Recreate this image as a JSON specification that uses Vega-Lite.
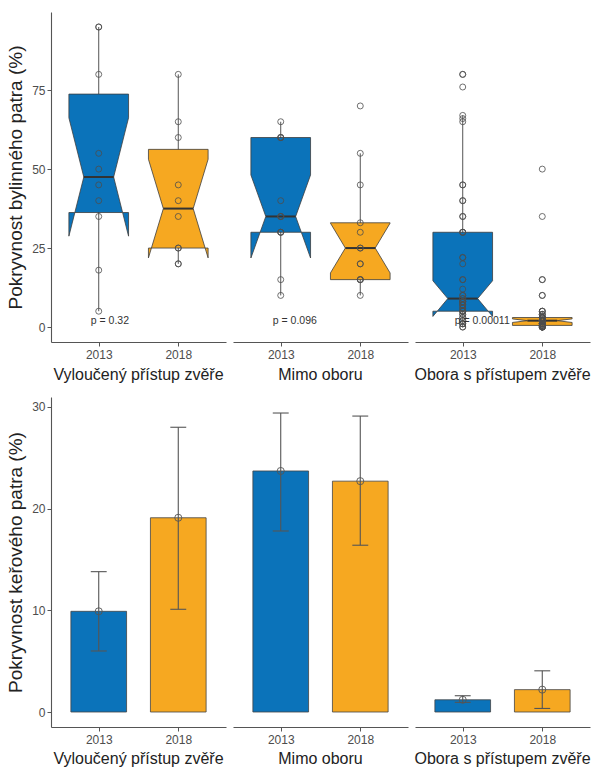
{
  "$schema": "https://vega.github.io/schema/vega-lite/v6.json",
  "background": "white",
  "padding": {"left": 6, "top": 12, "right": 0, "bottom": 0},
  "datasets": {
    "herb": [
      {"site": "Vyloučený přístup zvěře", "year": 2013, "cover": 95},
      {"site": "Vyloučený přístup zvěře", "year": 2013, "cover": 95},
      {"site": "Vyloučený přístup zvěře", "year": 2013, "cover": 80},
      {"site": "Vyloučený přístup zvěře", "year": 2013, "cover": 55},
      {"site": "Vyloučený přístup zvěře", "year": 2013, "cover": 50},
      {"site": "Vyloučený přístup zvěře", "year": 2013, "cover": 45},
      {"site": "Vyloučený přístup zvěře", "year": 2013, "cover": 40},
      {"site": "Vyloučený přístup zvěře", "year": 2013, "cover": 35},
      {"site": "Vyloučený přístup zvěře", "year": 2013, "cover": 18},
      {"site": "Vyloučený přístup zvěře", "year": 2013, "cover": 5},
      {"site": "Vyloučený přístup zvěře", "year": 2018, "cover": 80},
      {"site": "Vyloučený přístup zvěře", "year": 2018, "cover": 65},
      {"site": "Vyloučený přístup zvěře", "year": 2018, "cover": 60},
      {"site": "Vyloučený přístup zvěře", "year": 2018, "cover": 45},
      {"site": "Vyloučený přístup zvěře", "year": 2018, "cover": 40},
      {"site": "Vyloučený přístup zvěře", "year": 2018, "cover": 35},
      {"site": "Vyloučený přístup zvěře", "year": 2018, "cover": 25},
      {"site": "Vyloučený přístup zvěře", "year": 2018, "cover": 25},
      {"site": "Vyloučený přístup zvěře", "year": 2018, "cover": 20},
      {"site": "Vyloučený přístup zvěře", "year": 2018, "cover": 20},
      {"site": "Mimo oboru", "year": 2013, "cover": 65},
      {"site": "Mimo oboru", "year": 2013, "cover": 60},
      {"site": "Mimo oboru", "year": 2013, "cover": 60},
      {"site": "Mimo oboru", "year": 2013, "cover": 60},
      {"site": "Mimo oboru", "year": 2013, "cover": 40},
      {"site": "Mimo oboru", "year": 2013, "cover": 35},
      {"site": "Mimo oboru", "year": 2013, "cover": 35},
      {"site": "Mimo oboru", "year": 2013, "cover": 35},
      {"site": "Mimo oboru", "year": 2013, "cover": 30},
      {"site": "Mimo oboru", "year": 2013, "cover": 30},
      {"site": "Mimo oboru", "year": 2013, "cover": 30},
      {"site": "Mimo oboru", "year": 2013, "cover": 15},
      {"site": "Mimo oboru", "year": 2013, "cover": 10},
      {"site": "Mimo oboru", "year": 2018, "cover": 70},
      {"site": "Mimo oboru", "year": 2018, "cover": 55},
      {"site": "Mimo oboru", "year": 2018, "cover": 45},
      {"site": "Mimo oboru", "year": 2018, "cover": 33},
      {"site": "Mimo oboru", "year": 2018, "cover": 30},
      {"site": "Mimo oboru", "year": 2018, "cover": 25},
      {"site": "Mimo oboru", "year": 2018, "cover": 25},
      {"site": "Mimo oboru", "year": 2018, "cover": 20},
      {"site": "Mimo oboru", "year": 2018, "cover": 20},
      {"site": "Mimo oboru", "year": 2018, "cover": 15},
      {"site": "Mimo oboru", "year": 2018, "cover": 15},
      {"site": "Mimo oboru", "year": 2018, "cover": 15},
      {"site": "Mimo oboru", "year": 2018, "cover": 10},
      {"site": "Obora s přístupem zvěře", "year": 2013, "cover": 0},
      {"site": "Obora s přístupem zvěře", "year": 2013, "cover": 0},
      {"site": "Obora s přístupem zvěře", "year": 2013, "cover": 1},
      {"site": "Obora s přístupem zvěře", "year": 2013, "cover": 1},
      {"site": "Obora s přístupem zvěře", "year": 2013, "cover": 1},
      {"site": "Obora s přístupem zvěře", "year": 2013, "cover": 2},
      {"site": "Obora s přístupem zvěře", "year": 2013, "cover": 2},
      {"site": "Obora s přístupem zvěře", "year": 2013, "cover": 3},
      {"site": "Obora s přístupem zvěře", "year": 2013, "cover": 3},
      {"site": "Obora s přístupem zvěře", "year": 2013, "cover": 4},
      {"site": "Obora s přístupem zvěře", "year": 2013, "cover": 4},
      {"site": "Obora s přístupem zvěře", "year": 2013, "cover": 5},
      {"site": "Obora s přístupem zvěře", "year": 2013, "cover": 5},
      {"site": "Obora s přístupem zvěře", "year": 2013, "cover": 5},
      {"site": "Obora s přístupem zvěře", "year": 2013, "cover": 5},
      {"site": "Obora s přístupem zvěře", "year": 2013, "cover": 6},
      {"site": "Obora s přístupem zvěře", "year": 2013, "cover": 6},
      {"site": "Obora s přístupem zvěře", "year": 2013, "cover": 7},
      {"site": "Obora s přístupem zvěře", "year": 2013, "cover": 7},
      {"site": "Obora s přístupem zvěře", "year": 2013, "cover": 7},
      {"site": "Obora s přístupem zvěře", "year": 2013, "cover": 8},
      {"site": "Obora s přístupem zvěře", "year": 2013, "cover": 8},
      {"site": "Obora s přístupem zvěře", "year": 2013, "cover": 8},
      {"site": "Obora s přístupem zvěře", "year": 2013, "cover": 8},
      {"site": "Obora s přístupem zvěře", "year": 2013, "cover": 9},
      {"site": "Obora s přístupem zvěře", "year": 2013, "cover": 9},
      {"site": "Obora s přístupem zvěře", "year": 2013, "cover": 10},
      {"site": "Obora s přístupem zvěře", "year": 2013, "cover": 10},
      {"site": "Obora s přístupem zvěře", "year": 2013, "cover": 12},
      {"site": "Obora s přístupem zvěře", "year": 2013, "cover": 15},
      {"site": "Obora s přístupem zvěře", "year": 2013, "cover": 15},
      {"site": "Obora s přístupem zvěře", "year": 2013, "cover": 20},
      {"site": "Obora s přístupem zvěře", "year": 2013, "cover": 22},
      {"site": "Obora s přístupem zvěře", "year": 2013, "cover": 22},
      {"site": "Obora s přístupem zvěře", "year": 2013, "cover": 30},
      {"site": "Obora s přístupem zvěře", "year": 2013, "cover": 30},
      {"site": "Obora s přístupem zvěře", "year": 2013, "cover": 30},
      {"site": "Obora s přístupem zvěře", "year": 2013, "cover": 35},
      {"site": "Obora s přístupem zvěře", "year": 2013, "cover": 35},
      {"site": "Obora s přístupem zvěře", "year": 2013, "cover": 40},
      {"site": "Obora s přístupem zvěře", "year": 2013, "cover": 40},
      {"site": "Obora s přístupem zvěře", "year": 2013, "cover": 45},
      {"site": "Obora s přístupem zvěře", "year": 2013, "cover": 45},
      {"site": "Obora s přístupem zvěře", "year": 2013, "cover": 65},
      {"site": "Obora s přístupem zvěře", "year": 2013, "cover": 66},
      {"site": "Obora s přístupem zvěře", "year": 2013, "cover": 67},
      {"site": "Obora s přístupem zvěře", "year": 2013, "cover": 76},
      {"site": "Obora s přístupem zvěře", "year": 2013, "cover": 80},
      {"site": "Obora s přístupem zvěře", "year": 2013, "cover": 80},
      {"site": "Obora s přístupem zvěře", "year": 2018, "cover": 0},
      {"site": "Obora s přístupem zvěře", "year": 2018, "cover": 0},
      {"site": "Obora s přístupem zvěře", "year": 2018, "cover": 0},
      {"site": "Obora s přístupem zvěře", "year": 2018, "cover": 0},
      {"site": "Obora s přístupem zvěře", "year": 2018, "cover": 0},
      {"site": "Obora s přístupem zvěře", "year": 2018, "cover": 0},
      {"site": "Obora s přístupem zvěře", "year": 2018, "cover": 0},
      {"site": "Obora s přístupem zvěře", "year": 2018, "cover": 0},
      {"site": "Obora s přístupem zvěře", "year": 2018, "cover": 0.5},
      {"site": "Obora s přístupem zvěře", "year": 2018, "cover": 0.5},
      {"site": "Obora s přístupem zvěře", "year": 2018, "cover": 0.5},
      {"site": "Obora s přístupem zvěře", "year": 2018, "cover": 0.5},
      {"site": "Obora s přístupem zvěře", "year": 2018, "cover": 0.5},
      {"site": "Obora s přístupem zvěře", "year": 2018, "cover": 1},
      {"site": "Obora s přístupem zvěře", "year": 2018, "cover": 1},
      {"site": "Obora s přístupem zvěře", "year": 2018, "cover": 1},
      {"site": "Obora s přístupem zvěře", "year": 2018, "cover": 1},
      {"site": "Obora s přístupem zvěře", "year": 2018, "cover": 1},
      {"site": "Obora s přístupem zvěře", "year": 2018, "cover": 1},
      {"site": "Obora s přístupem zvěře", "year": 2018, "cover": 1},
      {"site": "Obora s přístupem zvěře", "year": 2018, "cover": 2},
      {"site": "Obora s přístupem zvěře", "year": 2018, "cover": 2},
      {"site": "Obora s přístupem zvěře", "year": 2018, "cover": 2},
      {"site": "Obora s přístupem zvěře", "year": 2018, "cover": 2},
      {"site": "Obora s přístupem zvěře", "year": 2018, "cover": 2},
      {"site": "Obora s přístupem zvěře", "year": 2018, "cover": 2},
      {"site": "Obora s přístupem zvěře", "year": 2018, "cover": 2},
      {"site": "Obora s přístupem zvěře", "year": 2018, "cover": 2},
      {"site": "Obora s přístupem zvěře", "year": 2018, "cover": 2},
      {"site": "Obora s přístupem zvěře", "year": 2018, "cover": 3},
      {"site": "Obora s přístupem zvěře", "year": 2018, "cover": 3},
      {"site": "Obora s přístupem zvěře", "year": 2018, "cover": 3},
      {"site": "Obora s přístupem zvěře", "year": 2018, "cover": 3},
      {"site": "Obora s přístupem zvěře", "year": 2018, "cover": 3},
      {"site": "Obora s přístupem zvěře", "year": 2018, "cover": 3},
      {"site": "Obora s přístupem zvěře", "year": 2018, "cover": 3},
      {"site": "Obora s přístupem zvěře", "year": 2018, "cover": 3},
      {"site": "Obora s přístupem zvěře", "year": 2018, "cover": 4},
      {"site": "Obora s přístupem zvěře", "year": 2018, "cover": 4},
      {"site": "Obora s přístupem zvěře", "year": 2018, "cover": 4},
      {"site": "Obora s přístupem zvěře", "year": 2018, "cover": 5},
      {"site": "Obora s přístupem zvěře", "year": 2018, "cover": 5},
      {"site": "Obora s přístupem zvěře", "year": 2018, "cover": 5},
      {"site": "Obora s přístupem zvěře", "year": 2018, "cover": 10},
      {"site": "Obora s přístupem zvěře", "year": 2018, "cover": 10},
      {"site": "Obora s přístupem zvěře", "year": 2018, "cover": 15},
      {"site": "Obora s přístupem zvěře", "year": 2018, "cover": 15},
      {"site": "Obora s přístupem zvěře", "year": 2018, "cover": 35},
      {"site": "Obora s přístupem zvěře", "year": 2018, "cover": 50},
      {"site": "Vyloučený přístup zvěře", "p": "p = 0.32"},
      {"site": "Mimo oboru", "p": "p = 0.096"},
      {"site": "Obora s přístupem zvěře", "p": "p = 0.00011"}
    ],
    "shrub": [
      {"site": "Vyloučený přístup zvěře", "year": 2013, "mean": 9.9, "lo": 6.0, "hi": 13.8},
      {"site": "Vyloučený přístup zvěře", "year": 2018, "mean": 19.1, "lo": 10.1, "hi": 28.0},
      {"site": "Mimo oboru", "year": 2013, "mean": 23.7, "lo": 17.8, "hi": 29.4},
      {"site": "Mimo oboru", "year": 2018, "mean": 22.7, "lo": 16.4, "hi": 29.1},
      {"site": "Obora s přístupem zvěře", "year": 2013, "mean": 1.2, "lo": 0.95, "hi": 1.6},
      {"site": "Obora s přístupem zvěře", "year": 2018, "mean": 2.2, "lo": 0.35, "hi": 4.05}
    ]
  },
  "vconcat": [
    {
      "data": {"name": "herb"},
      "transform": [
        {"joinaggregate": [
          {"op": "q1", "field": "cover", "as": "q1"},
          {"op": "median", "field": "cover", "as": "med"},
          {"op": "q3", "field": "cover", "as": "q3"},
          {"op": "valid", "field": "cover", "as": "n"}
        ], "groupby": ["site", "year"]},
        {"calculate": "datum.q3 - datum.q1", "as": "iqr"},
        {"calculate": "isValid(datum.cover) && datum.cover >= datum.q1 - 1.5 * datum.iqr ? datum.cover : null", "as": "loc"},
        {"calculate": "isValid(datum.cover) && datum.cover <= datum.q3 + 1.5 * datum.iqr ? datum.cover : null", "as": "hic"},
        {"joinaggregate": [
          {"op": "min", "field": "loc", "as": "wlo"},
          {"op": "max", "field": "hic", "as": "whi"}
        ], "groupby": ["site", "year"]},
        {"calculate": "1.58 * datum.iqr / sqrt(datum.n)", "as": "nd"},
        {"calculate": "datum.year == 2013 ? 1 : 2", "as": "xp"}
      ],
      "facet": {
        "column": {
          "field": "site", "type": "nominal", "title": null,
          "sort": ["Vyloučený přístup zvěře", "Mimo oboru", "Obora s přístupem zvěře"],
          "header": {"labelOrient": "bottom", "labelFontSize": 16, "labelFont": "Liberation Sans", "labelColor": "#222222", "labelPadding": 7}
        }
      },
      "spacing": 7,
      "spec": {
        "width": 175,
        "height": 330,
        "layer": [
          {
            "transform": [
              {"filter": "isValid(datum.cover)"},
              {"aggregate": [{"op": "count", "as": "k"}], "groupby": ["site", "year", "xp", "wlo", "whi"]}
            ],
            "mark": {"type": "rule", "color": "#555555", "strokeWidth": 1},
            "encoding": {
              "x": {"field": "xp", "type": "quantitative",
                "scale": {"domain": [0.4, 2.6], "nice": false, "zero": false},
                "axis": {"values": [1, 2], "labelExpr": "datum.value == 1 ? '2013' : '2018'", "title": null, "labelPadding": 3}},
              "y": {"field": "wlo", "type": "quantitative",
                "scale": {"domain": [-4.75, 99.75], "nice": false, "zero": false},
                "axis": {"values": [0, 25, 50, 75], "title": "Pokryvnost bylinného patra (%)", "titlePadding": 6}},
              "y2": {"field": "whi"}
            }
          },
          {
            "transform": [
              {"filter": "isValid(datum.cover)"},
              {"aggregate": [{"op": "count", "as": "k"}], "groupby": ["site", "year", "xp", "q1", "med", "q3", "nd"]},
              {"calculate": "max(datum.q1, datum.med - datum.nd)", "as": "b2"},
              {"calculate": "min(datum.q3, datum.med + datum.nd)", "as": "b4"},
              {"calculate": "min(datum.q1, datum.med - datum.nd)", "as": "lL_a"},
              {"calculate": "datum.q1", "as": "lL_b"},
              {"calculate": "min(datum.q1, datum.med - datum.nd)", "as": "lR_a"},
              {"calculate": "datum.q1", "as": "lR_b"},
              {"calculate": "datum.q3", "as": "uL_a"},
              {"calculate": "max(datum.q3, datum.med + datum.nd)", "as": "uL_b"},
              {"calculate": "datum.q3", "as": "uR_a"},
              {"calculate": "max(datum.q3, datum.med + datum.nd)", "as": "uR_b"},
              {"fold": ["q1", "b2", "med", "b4", "q3", "lL_a", "lL_b", "lR_a", "lR_b", "uL_a", "uL_b", "uR_a", "uR_b"], "as": ["key", "yv"]},
              {"calculate": "indexof(datum.key, '_') > 0 ? substring(datum.key, 0, 2) : 'b'", "as": "part"},
              {"calculate": "0.375 * (0.5 + 0.5 * min(1, abs(datum.yv - datum.med) / datum.nd))", "as": "h"},
              {"calculate": "datum.part == 'b' ? datum.xp - datum.h : ((datum.part == 'lL' || datum.part == 'uL') ? datum.xp - 0.375 : datum.xp + datum.h)", "as": "xa"},
              {"calculate": "datum.part == 'b' ? datum.xp + datum.h : ((datum.part == 'lL' || datum.part == 'uL') ? datum.xp - datum.h : datum.xp + 0.375)", "as": "xb"}
            ],
            "mark": {"type": "area", "orient": "horizontal", "stroke": "#3d3d3d", "strokeWidth": 0.8, "opacity": 1},
            "encoding": {
              "y": {"field": "yv", "type": "quantitative"},
              "x": {"field": "xa", "type": "quantitative"},
              "x2": {"field": "xb"},
              "color": {"field": "year", "type": "nominal", "scale": {"domain": [2013, 2018], "range": ["#0b73ba", "#f6a821"]}, "legend": null},
              "detail": {"field": "part", "type": "nominal"}
            }
          },
          {
            "transform": [
              {"filter": "isValid(datum.cover)"},
              {"aggregate": [{"op": "count", "as": "k"}], "groupby": ["site", "year", "xp", "med"]},
              {"calculate": "datum.xp - 0.1875", "as": "ml"},
              {"calculate": "datum.xp + 0.1875", "as": "mr"}
            ],
            "mark": {"type": "rule", "color": "#333333", "strokeWidth": 2},
            "encoding": {
              "x": {"field": "ml", "type": "quantitative"},
              "x2": {"field": "mr"},
              "y": {"field": "med", "type": "quantitative"}
            }
          },
          {
            "transform": [{"filter": "isValid(datum.cover)"}],
            "mark": {"type": "point", "shape": "circle", "filled": false, "size": 36, "stroke": "#4d4d4d", "strokeWidth": 0.8, "opacity": 1},
            "encoding": {
              "x": {"field": "xp", "type": "quantitative"},
              "y": {"field": "cover", "type": "quantitative"}
            }
          },
          {
            "transform": [{"filter": "isValid(datum.p)"}],
            "mark": {"type": "text", "align": "left", "baseline": "middle", "fontSize": 10.5, "font": "Liberation Sans", "color": "#333333"},
            "encoding": {
              "x": {"datum": 0.9},
              "y": {"datum": 2},
              "text": {"field": "p"}
            }
          }
        ]
      }
    },
    {
      "data": {"name": "shrub"},
      "transform": [
        {"calculate": "datum.year == 2013 ? 1 : 2", "as": "xp"},
        {"calculate": "datum.xp - 0.35", "as": "bl"},
        {"calculate": "datum.xp + 0.35", "as": "br"},
        {"calculate": "datum.xp - 0.1", "as": "cl"},
        {"calculate": "datum.xp + 0.1", "as": "cr"}
      ],
      "facet": {
        "column": {
          "field": "site", "type": "nominal", "title": null,
          "sort": ["Vyloučený přístup zvěře", "Mimo oboru", "Obora s přístupem zvěře"],
          "header": {"labelOrient": "bottom", "labelFontSize": 16, "labelFont": "Liberation Sans", "labelColor": "#222222", "labelPadding": 6}
        }
      },
      "spacing": 7,
      "spec": {
        "width": 175,
        "height": 330,
        "layer": [
          {
            "mark": {"type": "bar", "stroke": "#444444", "strokeWidth": 0.8},
            "encoding": {
              "x": {"field": "bl", "type": "quantitative",
                "scale": {"domain": [0.4, 2.6], "nice": false, "zero": false},
                "axis": {"values": [1, 2], "labelExpr": "datum.value == 1 ? '2013' : '2018'", "title": null, "labelPadding": 3}},
              "x2": {"field": "br"},
              "y": {"field": "mean", "type": "quantitative",
                "scale": {"domain": [-1.475, 30.975], "nice": false, "zero": false},
                "axis": {"values": [0, 10, 20, 30], "title": "Pokryvnost keřového patra (%)", "titlePadding": 6}},
              "y2": {"datum": 0},
              "color": {"field": "year", "type": "nominal", "scale": {"domain": [2013, 2018], "range": ["#0b73ba", "#f6a821"]}, "legend": null}
            }
          },
          {
            "mark": {"type": "rule", "color": "#555555", "strokeWidth": 1.1},
            "encoding": {
              "x": {"field": "xp", "type": "quantitative"},
              "y": {"field": "lo", "type": "quantitative"},
              "y2": {"field": "hi"}
            }
          },
          {
            "mark": {"type": "rule", "color": "#555555", "strokeWidth": 1.1},
            "encoding": {
              "x": {"field": "cl", "type": "quantitative"},
              "x2": {"field": "cr"},
              "y": {"field": "hi", "type": "quantitative"}
            }
          },
          {
            "mark": {"type": "rule", "color": "#555555", "strokeWidth": 1.1},
            "encoding": {
              "x": {"field": "cl", "type": "quantitative"},
              "x2": {"field": "cr"},
              "y": {"field": "lo", "type": "quantitative"}
            }
          },
          {
            "mark": {"type": "point", "shape": "circle", "filled": false, "size": 50, "stroke": "#555555", "strokeWidth": 0.9, "opacity": 1},
            "encoding": {
              "x": {"field": "xp", "type": "quantitative"},
              "y": {"field": "mean", "type": "quantitative"}
            }
          }
        ]
      }
    }
  ],
  "spacing": 14,
  "config": {
    "font": "Liberation Sans",
    "view": {"stroke": null},
    "axis": {
      "grid": false,
      "domainColor": "#555555",
      "domainWidth": 1.1,
      "tickColor": "#555555",
      "tickSize": 4,
      "labelFont": "Liberation Sans",
      "labelFontSize": 12,
      "labelColor": "#4d4d4d",
      "labelPadding": 2,
      "titleFont": "Liberation Sans",
      "titleFontSize": 19,
      "titleFontWeight": "normal",
      "titleColor": "#222222"
    }
  }
}
